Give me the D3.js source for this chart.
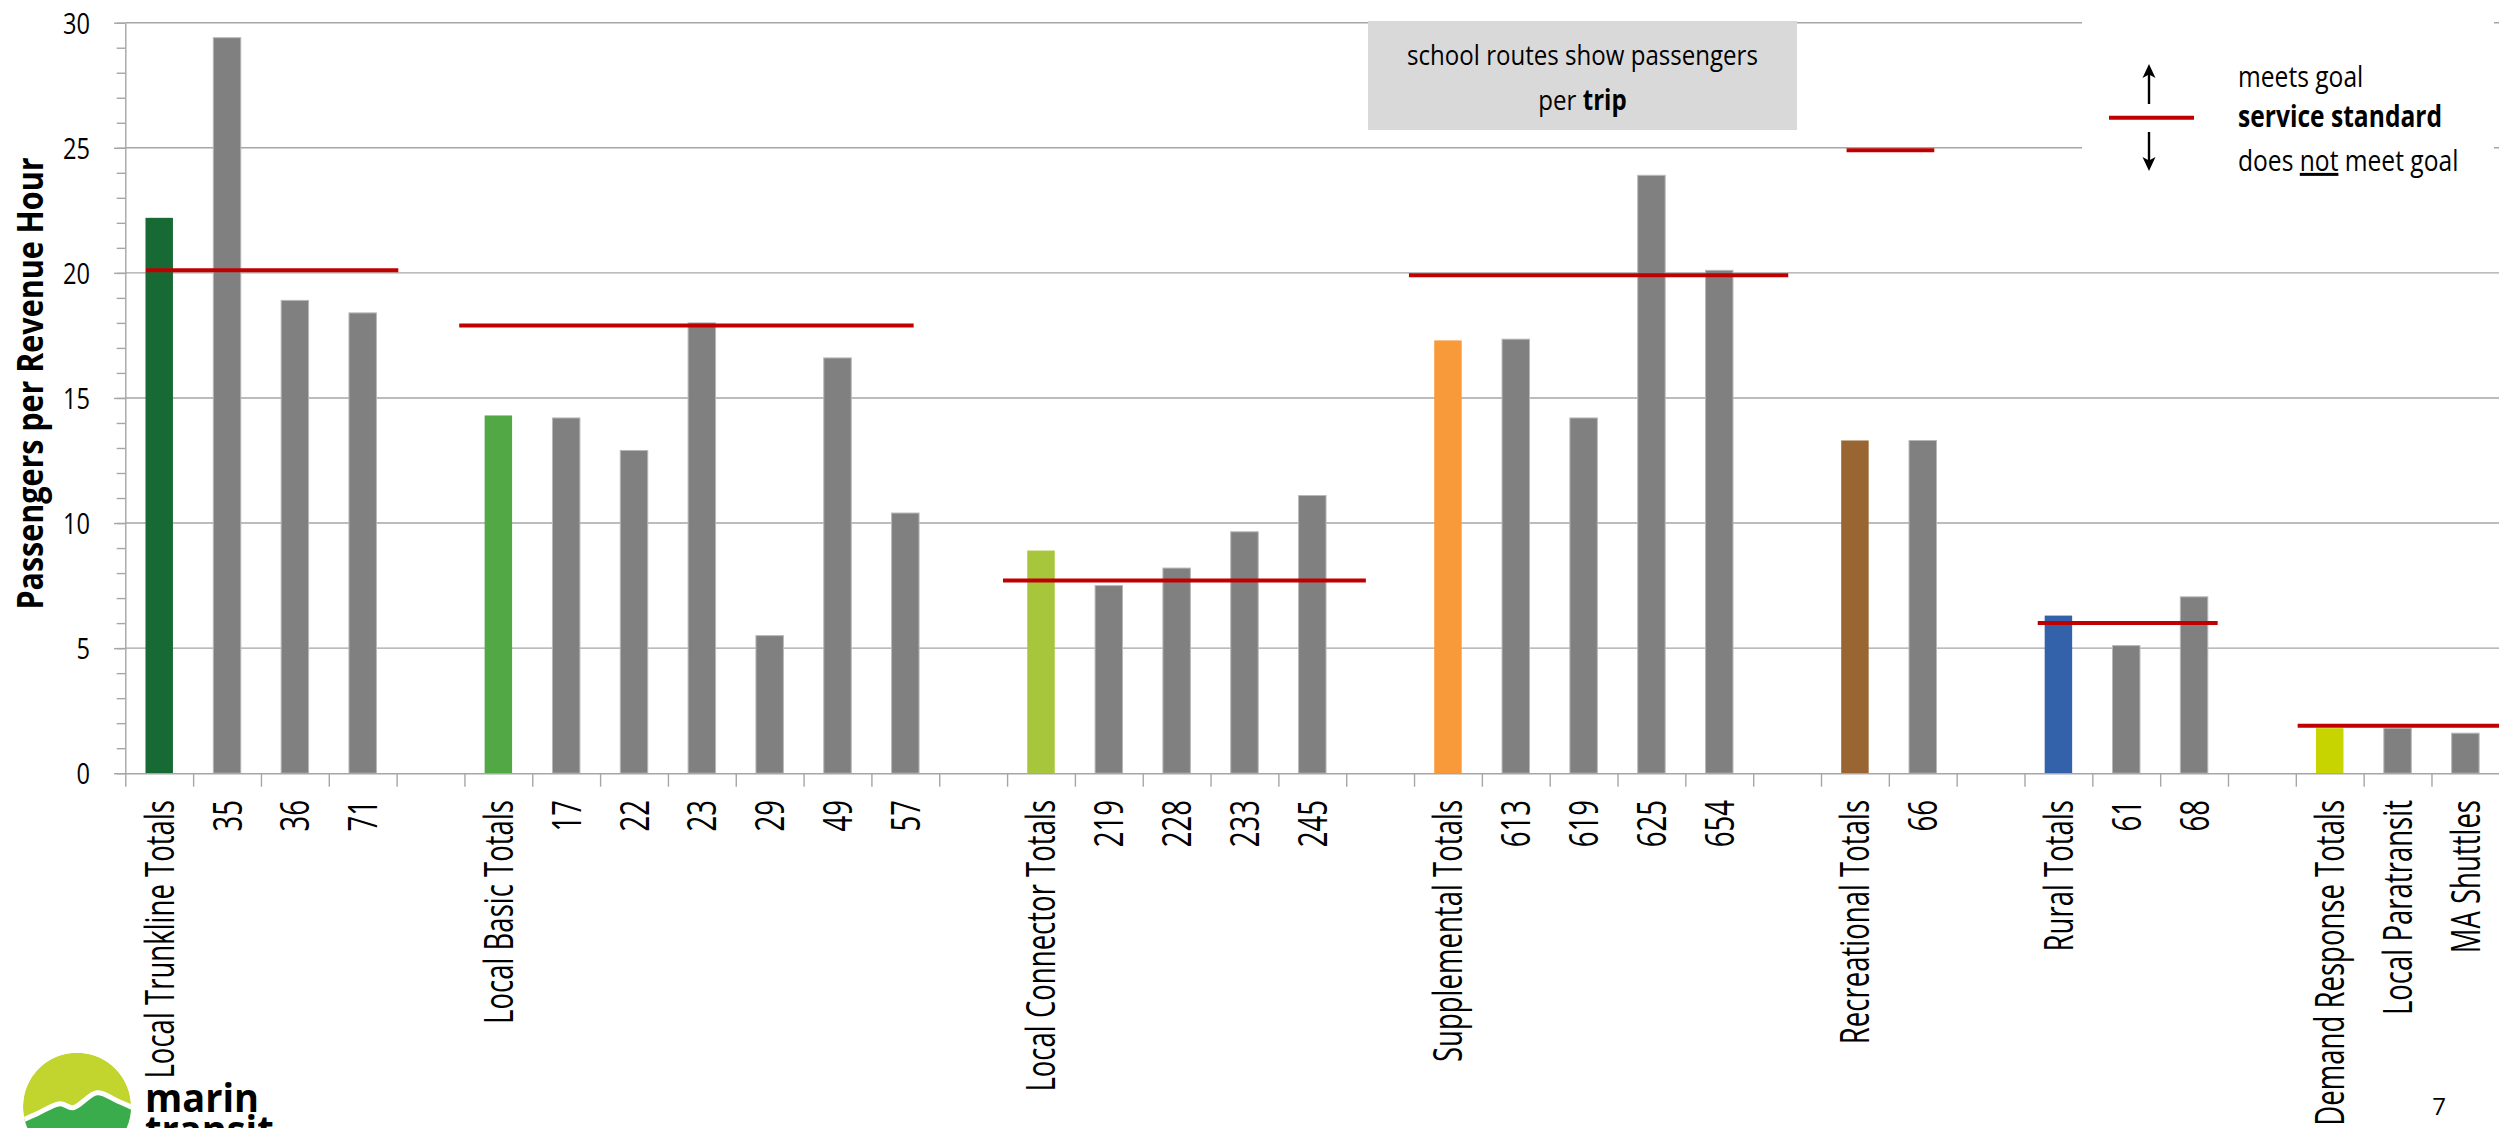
<!DOCTYPE html>
<html>
<head>
<meta charset="utf-8">
<script src="https://cdn.jsdelivr.net/npm/d3@7"></script>
<style>
  html, body { margin: 0; padding: 0; background: #ffffff; }
  svg { display: block; }
  text { font-family: "Open Sans", "Noto Sans", sans-serif; fill: #000; }
</style>
</head>
<body>
<svg id="chart" width="2499" height="1128"></svg>
<script>
// Route categories; blank entries separate the service families
const categories = [
  "Local Trunkline Totals", "35", "36", "71", "",
  "Local Basic Totals", "17", "22", "23", "29", "49", "57", "",
  "Local Connector Totals", "219", "228", "233", "245", "",
  "Supplemental Totals", "613", "619", "625", "654", "",
  "Recreational Totals", "66", "",
  "Rural Totals", "61", "68", "",
  "Demand Response Totals", "Local Paratransit", "MA Shuttles"
];

// Passengers per revenue hour (school routes: passengers per trip)
const values = [
  22.2, 29.4, 18.9, 18.4, null,
  14.3, 14.2, 12.9, 18.0, 5.5, 16.6, 10.4, null,
  8.9, 7.5, 8.2, 9.65, 11.1, null,
  17.3, 17.35, 14.2, 23.9, 20.1, null,
  13.3, 13.3, null,
  6.3, 5.1, 7.05, null,
  1.8, 1.8, 1.6
];

// Service standard of each family
const standardFamilies = ["Local Trunkline", "Local Basic", "Local Connector", "Supplemental", "Recreational", "Rural", "Demand Response"];
const standardValues = [20.1, 17.9, 7.7, 19.9, 24.9, 6.0, 1.9];

const yTickValues = [0, 5, 10, 15, 20, 25, 30];

// ---- styling / layout ----
const familyColors = {
  "Local Trunkline": "#186a34",
  "Local Basic": "#53a846",
  "Local Connector": "#a7c63b",
  "Supplemental": "#f89a3a",
  "Recreational": "#996633",
  "Rural": "#3361aa",
  "Demand Response": "#c8d400"
};
const routeColor = "#808080";
const gridColor = "#a6a6a6";
const standardColor = "#c00000";
// horizontal extent of each standard line, measured in category steps from the plot's left edge
const standardSpans = [[0.305, 4.025], [4.923, 11.623], [12.94, 18.29], [18.925, 24.517], [25.377, 26.67], [28.195, 30.848], [32.027, 35]];

const plot = { left: 125.3, right: 2499.3, top: 22.7, bottom: 773.2 };

const svg = d3.select("#chart");

const x = d3.scaleBand()
  .domain(d3.range(categories.length))
  .range([plot.left, plot.right])
  .paddingInner(0.595)
  .paddingOuter(0.2975);

// category edges, used for the tick marks between categories and the standard lines
const xEdge = d3.scaleLinear().domain([0, categories.length]).range([plot.left, plot.right]);

const y = d3.scaleLinear().domain([0, 30]).range([plot.bottom, plot.top]);

// family of each category
let fam = null;
const families = categories.map(c => {
  if (c.endsWith(" Totals")) fam = c.replace(" Totals", "");
  return fam;
});

// helper: horizontally condensed text
function ctext(parent, o) {
  const g = parent.append("g")
    .attr("transform", `translate(${o.x},${o.y}) rotate(${o.rotate || 0}) scale(${o.sx || 1},1)`);
  const t = g.append("text")
    .attr("x", 0).attr("y", o.dy || 0)
    .attr("text-anchor", o.anchor || "start")
    .attr("font-size", o.size)
    .attr("font-weight", o.weight || 400);
  if (o.text !== undefined) t.text(o.text);
  return t;
}

// ---- gridlines ----
svg.append("g").selectAll("line")
  .data(yTickValues.filter(v => v > 0))
  .join("line")
  .attr("x1", plot.left).attr("x2", plot.right)
  .attr("y1", d => y(d)).attr("y2", d => y(d))
  .attr("stroke", gridColor).attr("stroke-width", 1.4);

// ---- bars ----
svg.append("g").selectAll("rect")
  .data(values.map((v, i) => ({ v, i, total: categories[i].endsWith(" Totals") })).filter(d => d.v !== null))
  .join("rect")
  .attr("x", d => x(d.i))
  .attr("width", x.bandwidth())
  .attr("y", d => y(d.v))
  .attr("height", d => y(0) - y(d.v))
  .attr("fill", d => d.total ? familyColors[families[d.i]] : routeColor)
  .attr("stroke", d => d.total ? "none" : "#b8b8b8")
  .attr("stroke-width", 1);

// ---- y axis (major + minor ticks) ----
const yAxisMinor = svg.append("g").attr("transform", `translate(${plot.left},0)`)
  .call(d3.axisLeft(y).tickValues(d3.range(0, 31)).tickSize(8.6).tickSizeOuter(0).tickFormat(""));
yAxisMinor.select(".domain").remove();
yAxisMinor.selectAll("line").attr("stroke", gridColor).attr("stroke-width", 1.4);

const yAxis = svg.append("g").attr("transform", `translate(${plot.left},0)`)
  .call(d3.axisLeft(y).tickValues(yTickValues).tickSize(11.3).tickSizeOuter(0).tickFormat(d3.format("d")));
yAxis.select(".domain").attr("stroke", gridColor).attr("stroke-width", 1.4);
yAxis.selectAll("line").attr("stroke", gridColor).attr("stroke-width", 1.4);
yAxis.selectAll("text")
  .attr("x", null).attr("dy", "0.36em")
  .attr("transform", "translate(-35.3,0) scale(0.8,1)")
  .attr("font-size", 29.5)
  .attr("font-family", "'Open Sans', sans-serif")
  .attr("fill", "#000");

// ---- x axis: baseline and ticks between categories ----
const xAxis = svg.append("g").attr("transform", `translate(0,${plot.bottom})`)
  .call(d3.axisBottom(xEdge).tickValues(d3.range(categories.length + 1)).tickSize(13.5).tickSizeOuter(0).tickFormat(""));
xAxis.select(".domain").attr("stroke", gridColor).attr("stroke-width", 1.6);
xAxis.selectAll("line").attr("stroke", gridColor).attr("stroke-width", 1.4);

// category labels, rotated
const xLabels = svg.append("g");
categories.forEach((c, i) => {
  if (!c) return;
  ctext(xLabels, {
    x: x(i) + x.bandwidth() / 2, y: 800, rotate: -90, sx: 0.68,
    anchor: "end", size: 40.5, dy: 14.5, text: c
  });
});

// ---- service standard lines ----
svg.append("g").selectAll("line")
  .data(standardValues.map((v, i) => ({ v, span: standardSpans[i], fam: standardFamilies[i] })))
  .join("line")
  .attr("x1", d => xEdge(d.span[0])).attr("x2", d => xEdge(d.span[1]))
  .attr("y1", d => y(d.v)).attr("y2", d => y(d.v))
  .attr("stroke", standardColor).attr("stroke-width", 4);

// ---- y axis title ----
ctext(svg, { x: 43, y: 383.5, rotate: -90, sx: 0.87, anchor: "middle", size: 35, weight: 700, text: "Passengers per Revenue Hour" });

// ---- school routes note ----
const note = svg.append("g");
note.append("rect").attr("x", 1368).attr("y", 21).attr("width", 429).attr("height", 109).attr("fill", "#d9d9d9");
ctext(note, { x: 1582.5, y: 65, sx: 0.86, anchor: "middle", size: 28, text: "school routes show passengers" });
const l2 = ctext(note, { x: 1582.5, y: 110, sx: 0.86, anchor: "middle", size: 28 });
l2.append("tspan").text("per ");
l2.append("tspan").attr("font-weight", 700).text("trip");

// ---- legend ----
const legend = svg.append("g");
legend.append("rect").attr("x", 2082).attr("y", 0).attr("width", 412).attr("height", 190).attr("fill", "#ffffff");
legend.append("line").attr("x1", 2109).attr("x2", 2194).attr("y1", 117.7).attr("y2", 117.7)
  .attr("stroke", standardColor).attr("stroke-width", 4);
// up arrow
legend.append("line").attr("x1", 2149).attr("x2", 2149).attr("y1", 104).attr("y2", 72)
  .attr("stroke", "#000").attr("stroke-width", 2.4);
legend.append("path").attr("d", "M2149,64 L2142.5,78 L2149,74.5 L2155.5,78 Z").attr("fill", "#000");
// down arrow
legend.append("line").attr("x1", 2149).attr("x2", 2149).attr("y1", 132).attr("y2", 163)
  .attr("stroke", "#000").attr("stroke-width", 2.4);
legend.append("path").attr("d", "M2149,171 L2142.5,157 L2149,160.5 L2155.5,157 Z").attr("fill", "#000");

ctext(legend, { x: 2238, y: 87.3, sx: 0.82, size: 30, text: "meets goal" });
ctext(legend, { x: 2238, y: 126.7, sx: 0.82, size: 30, weight: 700, text: "service standard" });
const l3 = ctext(legend, { x: 2238, y: 170.7, sx: 0.82, size: 30 });
l3.append("tspan").text("does ");
l3.append("tspan").attr("text-decoration", "underline").text("not");
l3.append("tspan").text(" meet goal");

// ---- page number ----
ctext(svg, { x: 2439, y: 1115, anchor: "middle", size: 24, text: "7" });

// ---- logo ----
const logo = svg.append("g").attr("transform", "translate(77,1106.7)");
logo.append("clipPath").attr("id", "logoClip").append("circle").attr("r", 54);
const lg = logo.append("g").attr("clip-path", "url(#logoClip)");
lg.append("circle").attr("r", 54).attr("fill", "#c2d52f");
const ridge = [[-60, 16], [-40, 7], [-17, -3], [-4, 1], [20, -14], [40, -6], [60, 3]];
const ridgeLine = d3.line().curve(d3.curveCatmullRom);
lg.append("path")
  .attr("d", ridgeLine(ridge) + "L60,70L-60,70Z")
  .attr("fill", "#3aac4b");
lg.append("path")
  .attr("d", ridgeLine(ridge))
  .attr("fill", "none").attr("stroke", "#ffffff").attr("stroke-width", 5);
ctext(svg, { x: 145, y: 1111.7, size: 40, weight: 700, sx: 0.95, text: "marin" });
ctext(svg, { x: 145, y: 1144, size: 40, weight: 700, sx: 0.95, text: "transit" });
</script>
</body>
</html>
